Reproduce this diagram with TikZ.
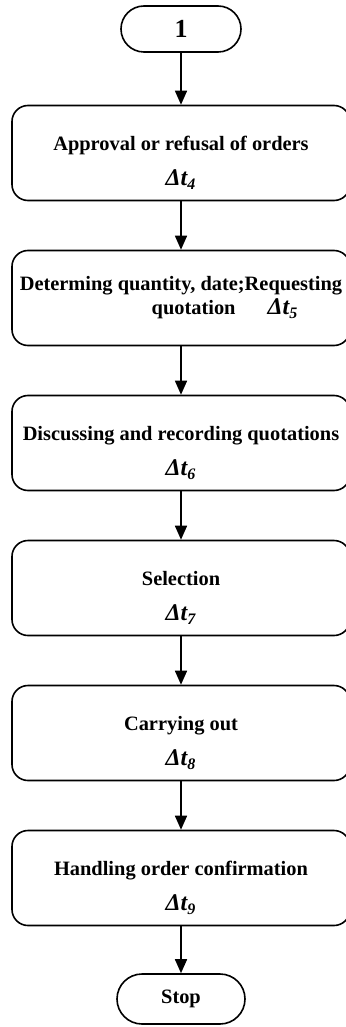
\documentclass[tikz,border=0pt]{standalone}
\usepackage{fontspec}
\setmainfont{Liberation Serif}
\usetikzlibrary{arrows.meta}

\newcommand{\dtime}[1]{{\fontsize{12}{12}\selectfont\itshape Δt\textsubscript{#1}}}
\newcommand{\padtop}{\rule{0pt}{17pt}}

\begin{document}
\begin{tikzpicture}[x=0.5pt,y=-0.5pt,line width=0.8pt,
  stepbox/.style={draw,rounded corners=8pt,minimum width=169pt,minimum height=47.5pt,align=center,inner sep=1pt,font=\bfseries\fontsize{10.2}{12}\selectfont},
  termbox/.style={draw,rounded corners=11.5pt,minimum height=23pt,inner sep=1pt,font=\bfseries\fontsize{10.2}{12}\selectfont},
  flow/.style={-{Triangle[length=7pt,width=6pt]}}]

\useasboundingbox (0,0) rectangle (345,1027);

\node[termbox,minimum width=60pt] (start) at (181,29) {\fontsize{13}{14}\selectfont 1};
\node[stepbox] (s4) at (181,153) {\padtop Approval or refusal of orders\\[5.5pt]\dtime{4}}; %4
\node[stepbox] (s5) at (181,298) {Determing quantity, date;Requesting\\\hspace*{44pt}quotation\hspace{16pt}\dtime{5}}; %5
\node[stepbox] (s6) at (181,443) {\padtop Discussing and recording quotations\\[5.5pt]\dtime{6}}; %6
\node[stepbox] (s7) at (181,588) {\padtop Selection\\[5.5pt]\dtime{7}}; %7
\node[stepbox] (s8) at (181,733) {\padtop Carrying out\\[5.5pt]\dtime{8}}; %8
\node[stepbox] (s9) at (181,878) {\padtop Handling order confirmation\\[5.5pt]\dtime{9}}; %9
\node[termbox,minimum width=64pt,minimum height=25pt,rounded corners=12.5pt] (stop) at (181,999) {Stop};

\draw[flow] (start) -- (s4);
\draw[flow] (s4) -- (s5);
\draw[flow] (s5) -- (s6);
\draw[flow] (s6) -- (s7);
\draw[flow] (s7) -- (s8);
\draw[flow] (s8) -- (s9);
\draw[flow] (s9) -- (stop);

\end{tikzpicture}
\end{document}
